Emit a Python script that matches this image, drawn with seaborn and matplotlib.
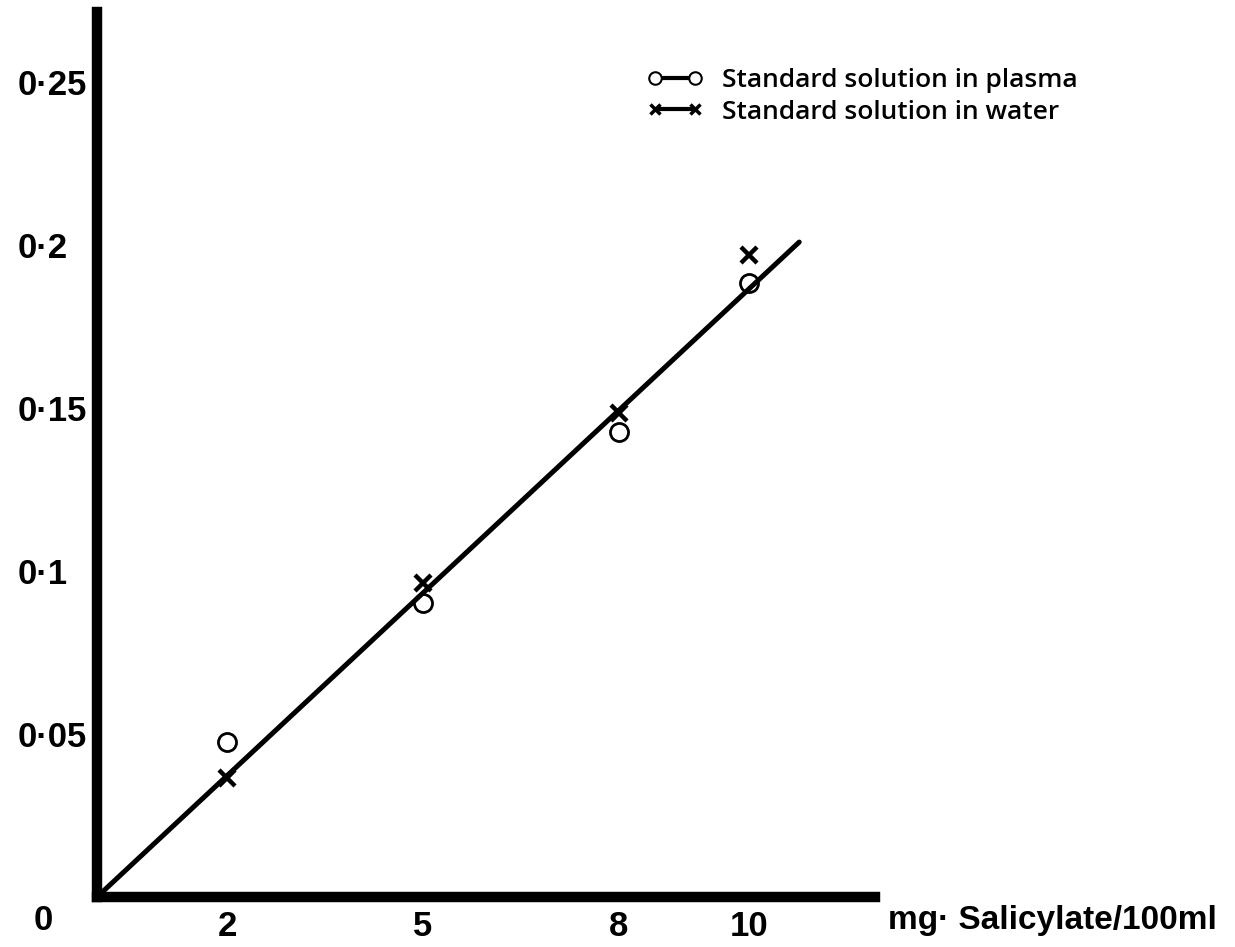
import matplotlib
matplotlib.use("Agg")
import matplotlib.pyplot as plt
from matplotlib.lines import Line2D
import seaborn as sns
import pandas as pd

# ---- data ----
conc = [2, 5, 8, 10]
plasma = [0.0475, 0.0902, 0.1426, 0.1883]
water = [0.0365, 0.0963, 0.1485, 0.1969]
fit_x = [0.0, 10.77]
fit_y = [0.0, 0.2009]
xtick_vals = [2, 5, 8, 10]
xtick_labels = ["2", "5", "8", "10"]
ytick_vals = [0.05, 0.1, 0.15, 0.2, 0.25]
ytick_labels = ["0·05", "0·1", "0·15", "0·2", "0·25"]
legend_labels = ["Standard solution in plasma", "Standard solution in water"]
xlabel = "mg· Salicylate/100ml"

sns.set_style("white")
plt.rcParams["font.family"] = ["Liberation Sans", "DejaVu Sans"]
plt.rcParams["text.color"] = "black"
plt.rcParams["axes.labelcolor"] = "black"

W, H = 1235, 947
fig = plt.figure(figsize=(W / 100, H / 100), dpi=100)
ax = fig.add_axes([97 / W, 50 / H, 778 / W, 885 / H])

df_p = pd.DataFrame({"x": conc, "y": plasma})
df_w = pd.DataFrame({"x": conc, "y": water})
df_f = pd.DataFrame({"x": fit_x, "y": fit_y})

sns.lineplot(data=df_f, x="x", y="y", ax=ax, color="black", linewidth=3.6, zorder=2)
ax.plot(df_p["x"], df_p["y"], linestyle="none", marker="o", markersize=13,
        markerfacecolor="none", markeredgecolor="black", markeredgewidth=2.0, zorder=3)
ax.plot(df_w["x"], df_w["y"], linestyle="none", marker="x", markersize=11,
        color="black", markeredgewidth=3.2, zorder=3)

ax.set_xlim(0, 778 / 65.2)
ax.set_ylim(0, 885 / 3260)

sns.despine(ax=ax)
for side in ["left", "bottom"]:
    ax.spines[side].set_linewidth(7.5)
    ax.spines[side].set_color("black")
    ax.spines[side].set_capstyle("projecting")

ax.set_xticks(xtick_vals)
ax.set_xticklabels(xtick_labels)
ax.set_yticks(ytick_vals)
ax.set_yticklabels(ytick_labels)
ax.tick_params(axis="both", direction="in", length=9, width=2, colors="black",
               labelsize=25)
ax.tick_params(axis="x", pad=9)
ax.tick_params(axis="y", pad=57)
for lab in ax.get_yticklabels():
    lab.set_horizontalalignment("left")
for lab in ax.get_xticklabels() + ax.get_yticklabels():
    lab.set_fontweight("bold")

ax.set_xlabel("")
ax.set_ylabel("")

ax.annotate("0", xy=(0, 0), xytext=(-54, -23), textcoords="offset pixels",
            ha="center", va="center", fontsize=25, fontweight="bold", color="black")
ax.text(1 + 13 / 778, -23 / 885, xlabel, transform=ax.transAxes, ha="left",
        va="center", fontsize=24, fontweight="bold", color="black")

handles = [
    Line2D([0], [0], color="black", lw=3, marker="o", markersize=9,
           markerfacecolor="white", markeredgecolor="black", markeredgewidth=1.5),
    Line2D([0], [0], color="black", lw=3, marker="x", markersize=7,
           markeredgewidth=2.5),
]
leg = fig.legend(handles, legend_labels, loc="upper left",
                 bbox_to_anchor=(647 / W, 1 - 68 / H), bbox_transform=fig.transFigure,
                 frameon=False, numpoints=2, handlelength=2.1, handletextpad=0.75,
                 labelspacing=0.25, borderpad=0, borderaxespad=0,
                 prop={"family": ["Open Sans", "DejaVu Sans"], "weight": 600, "size": 19})
for t in leg.get_texts():
    t.set_color("black")

fig.savefig("out.png", dpi=100)
